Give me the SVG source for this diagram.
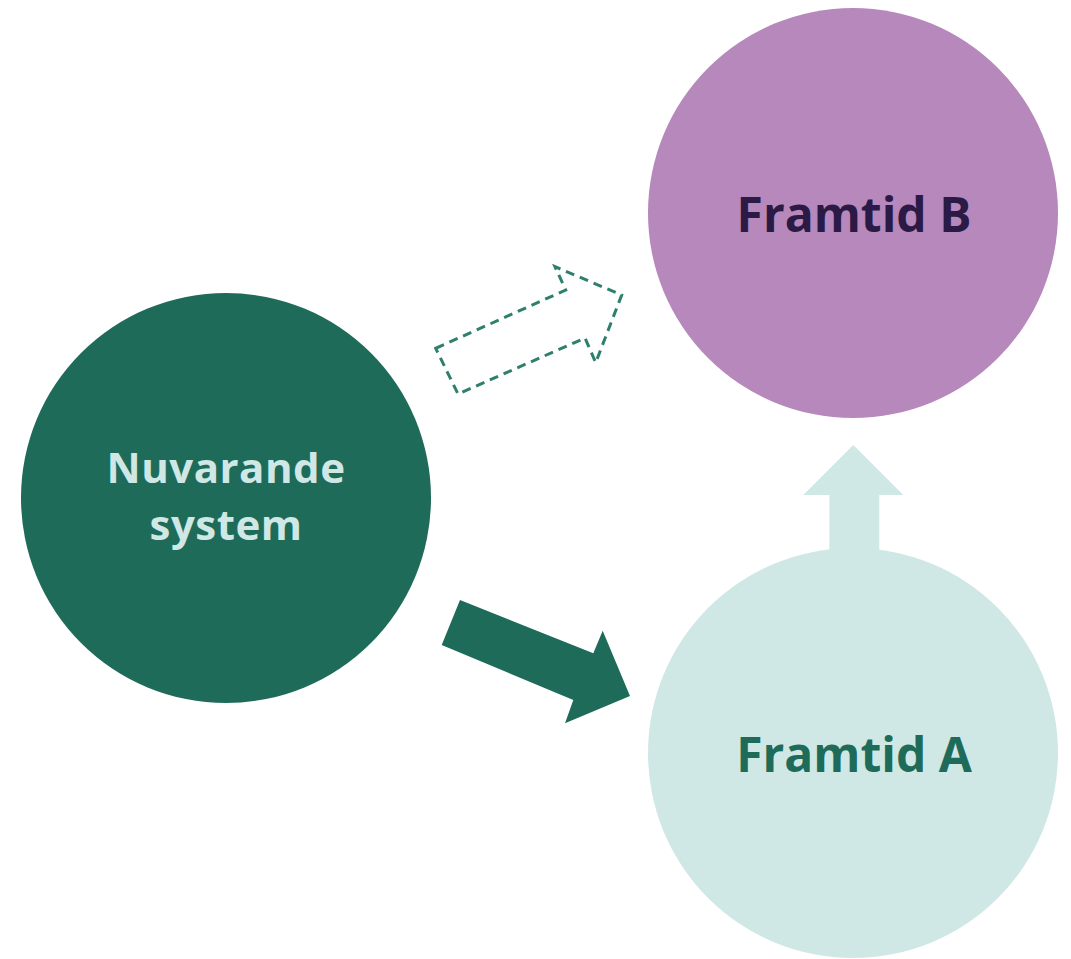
<svg xmlns="http://www.w3.org/2000/svg" width="1071" height="959" viewBox="0 0 1071 959">
<style>
.lbl{font-family:"Open Sans","Noto Sans","Liberation Sans",sans-serif;font-weight:700;text-anchor:middle}
</style>
<rect width="1071" height="959" fill="#ffffff"/>
<g id="connectors">
<path id="arrow-dashed" d="M435.7,348.3 L565.7,290 L555,266.7 L621.7,295 L595.7,362.7 L585,338 L458,394 Z" fill="none" stroke="#2E7F6C" stroke-width="3" stroke-dasharray="9,6"/>
<path id="arrow-solid" d="M460,600 L593.3,653.3 L602.7,630.7 L630,696 L565,723.3 L573.3,700 L441.7,645 Z" fill="#1F6B5A"/>
<path id="arrow-up" d="M853.3,445 L903.3,495 L879.3,495 L879.3,570 L829.3,570 L829.3,495 L803.3,495 Z" fill="#D0E8E5"/>
</g>
<g id="node-nuvarande">
<circle cx="226" cy="498" r="205" fill="#1F6B5A"/>
<text class="lbl" x="226" y="483" font-size="42" letter-spacing="0.5" fill="#D0E8E5">Nuvarande</text>
<text class="lbl" x="226" y="540" font-size="42" letter-spacing="0.5" fill="#D0E8E5">system</text>
</g>
<g id="node-framtid-b">
<circle cx="853" cy="213" r="205" fill="#B688BC"/>
<text class="lbl" x="854" y="232" font-size="48" fill="#2A1A45">Framtid B</text>
</g>
<g id="node-framtid-a">
<circle cx="853" cy="753" r="205" fill="#D0E8E5"/>
<text class="lbl" x="854" y="772" font-size="48" fill="#1F6B5A">Framtid A</text>
</g>
</svg>
